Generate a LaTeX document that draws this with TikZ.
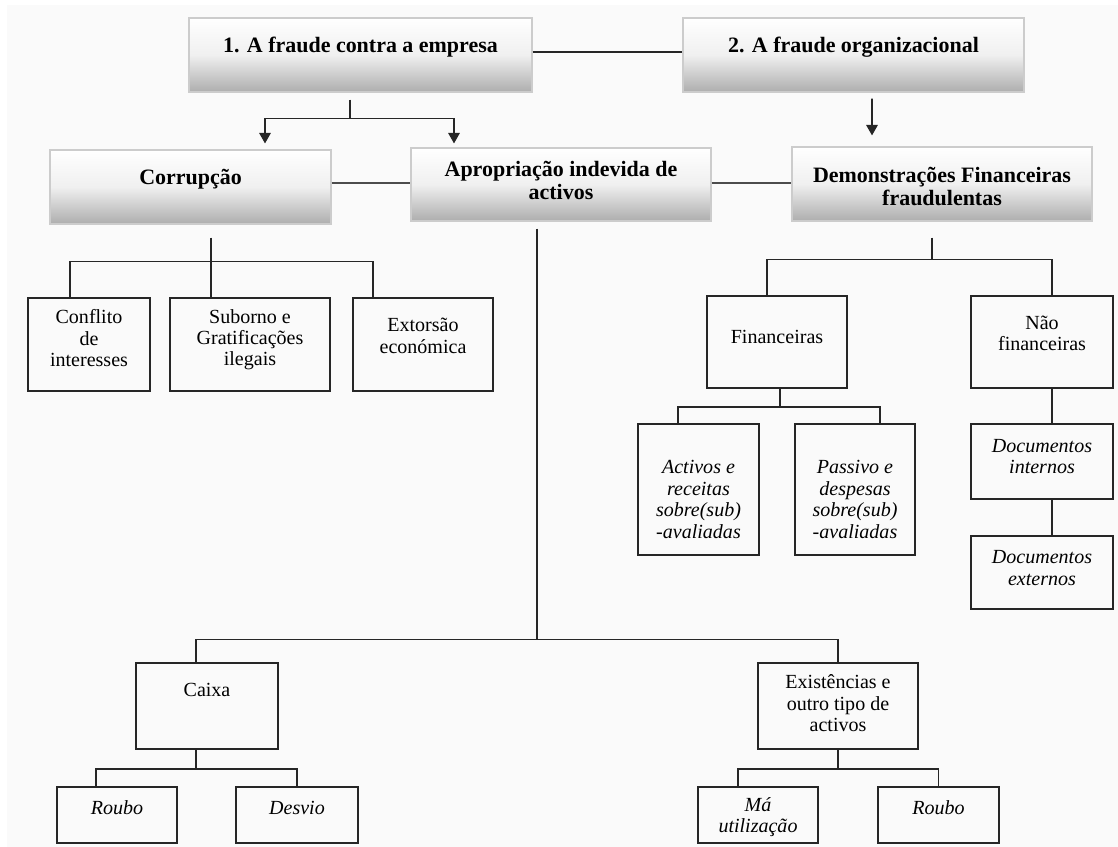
\documentclass[tikz,border=0pt]{standalone}
\usepackage{fontspec}
\setmainfont{Liberation Serif}
\usetikzlibrary{arrows.meta,calc}

\definecolor{paper}{HTML}{FAFAFA}
\tikzset{
  head/.style={draw=gray!40,line width=0.6pt,top color=white,bottom color=black!32,middle color=white!94!black,
    align=center,inner sep=0pt,font=\bfseries\fontsize{12.5}{13.3}\selectfont},
  leaf/.style={draw=black!85,line width=1.1pt,align=center,inner sep=0pt,font=\fontsize{11.4}{12.2}\selectfont},
  leafit/.style={leaf,font=\itshape\fontsize{11.4}{12.2}\selectfont},
  sz/.style 2 args={minimum width=#1*0.02cm,minimum height=#2*0.02cm},
  lift/.style={text height=(#1)*0.02cm},
  link/.style={line width=1pt,draw=black!85},
  arr/.style={link,-{Triangle[length=6pt,width=6.5pt]}},
}

\begin{document}
\begin{tikzpicture}[x=0.02cm,y=-0.02cm]
  \fill[white] (0,0) rectangle (1118,847);
  \fill[paper] (7,5) rectangle (1118,847);
  \useasboundingbox (0,0) rectangle (1118,847);

  \node[head,sz={343}{74},lift=-1] (fraud1) at (360.5,55) {1. A fraude contra a empresa};
  \node[head,sz={341}{74},lift=-1] (fraud2) at (853.5,55) {2. A fraude organizacional};
  \node[head,sz={281}{74},lift=-2] (corr) at (190.5,187) {Corrupção};
  \node[head,sz={300}{73},lift=30] (aprop) at (561,184.5) {Apropriação indevida de\\activos};
  \node[head,sz={300}{74},lift=44] (demfin) at (942,184) {Demonstrações Financeiras\\fraudulentas};

  \node[leaf,sz={122}{93},lift=44.3] (confl) at (89,344.5) {Conflito\\de\\interesses};
  \node[leaf,sz={160}{93},lift=47.3] (subor) at (250,344.5) {Suborno e\\Gratificações\\ilegais};
  \node[leaf,sz={140}{93},lift=18] (extor) at (423,344.5) {Extorsão\\económica};

  \node[leaf,sz={140}{92},lift=3] (finan) at (777,342) {Financeiras};
  \node[leaf,sz={142}{92},lift=17.5] (naofin) at (1042,342) {Não\\financeiras};
  \node[leafit,sz={121}{131},lift=97.7] (activ) at (698.5,489.5) {Activos e\\receitas\\sobre(sub)\\-avaliadas};
  \node[leafit,sz={120}{131},lift=97.7] (passiv) at (855,489.5) {Passivo e\\despesas\\sobre(sub)\\-avaliadas};
  \node[leafit,sz={142}{75},lift=25] (docint) at (1042,461.5) {Documentos\\internos};
  \node[leafit,sz={142}{73},lift=26] (docext) at (1042,572.5) {Documentos\\externos};

  \node[leaf,sz={142}{86},lift=0,text depth=20*0.02cm] (caixa) at (207,706) {Caixa};
  \node[leaf,sz={160}{86},lift=51.8] (exist) at (838,706) {Existências e\\outro tipo de\\activos};
  \node[leafit,sz={120}{56},lift=-2] (roubo1) at (117,815) {Roubo};
  \node[leafit,sz={122}{56},lift=-2] (desvio) at (297,815) {Desvio};
  \node[leafit,sz={120}{56},lift=39.4] (mautil) at (758,815) {Má\\utilização};
  \node[leafit,sz={121}{56},lift=-2] (roubo2) at (938.5,815) {Roubo};

  % top level
  \draw[link,line width=1.2pt] ($(fraud1.east)+(0,-3)$) -- ($(fraud2.west)+(0,-3)$);
  \coordinate (fork1) at ($(fraud1.south)+(-10.5,26)$);
  \draw[link] ($(fraud1.south)+(-10.5,7)$) -- (fork1);
  \draw[arr] (fork1) -| ($(corr.north)+(74.5,-6)$);
  \draw[arr] (fork1) -| ($(aprop.north)+(-107,-4)$);
  \draw[arr] ($(fraud2.south)+(18.5,6)$) -- ($(demfin.north)+(-70,-11)$);
  \draw[link,draw=black!70] ($(corr.east)+(0,-4)$) -- ($(aprop.west)+(0,-1.5)$);
  \draw[link,draw=black!70] ($(aprop.east)+(0,-1.5)$) -- ($(demfin.west)+(0,-1)$);

  % corrupcao
  \coordinate (forkc) at ($(corr.south)+(20.5,37)$);
  \draw[link] ($(corr.south)+(20.5,13)$) -- (forkc |- subor.north);
  \draw[link] ($(confl.north)+(-19,0)$) |- (forkc) -| ($(extor.north)+(-50,0)$);

  % apropriacao
  \coordinate (forka) at ($(aprop.south)+(-24,418)$);
  \draw[link] ($(aprop.south)+(-24,7)$) -- (forka);
  \draw[link] ($(caixa.north)+(-11,0)$) |- (forka) -| (exist.north);
  \coordinate (forkx) at ($(caixa.south)+(-11,19)$);
  \draw[link] ($(caixa.south)+(-11,0)$) -- (forkx);
  \draw[link] ($(roubo1.north)+(-21,0)$) |- (forkx) -| (desvio.north);
  \coordinate (forke) at ($(exist.south)+(0,19)$);
  \draw[link] (exist.south) -- (forke);
  \draw[link] ($(mautil.north)+(-20,0)$) |- (forke) -| (roubo2.north);

  % demonstracoes
  \coordinate (forkd) at ($(demfin.south)+(-10,38)$);
  \draw[link] ($(demfin.south)+(-10,16)$) -- (forkd);
  \draw[link] ($(finan.north)+(-10,0)$) |- (forkd) -| ($(naofin.north)+(10,0)$);
  \coordinate (forkf) at ($(finan.south)+(3,18)$);
  \draw[link] ($(finan.south)+(3,0)$) -- (forkf);
  \draw[link] ($(activ.north)+(-20.5,0)$) |- (forkf) -| ($(passiv.north)+(25,0)$);
  \draw[link] ($(naofin.south)+(10,0)$) -- ($(docint.north)+(10,0)$);
  \draw[link] ($(docint.south)+(10,0)$) -- ($(docext.north)+(10,0)$);
\end{tikzpicture}
\end{document}
